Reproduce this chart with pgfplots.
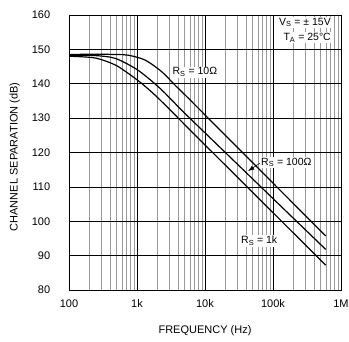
\documentclass[border=0pt]{standalone}
\usepackage{fontspec}
\setmainfont{Liberation Sans}
\usepackage{pgfplots}
\pgfplotsset{compat=1.18}
\usetikzlibrary{arrows.meta}
\begin{document}
\fontsize{11}{13}\selectfont
\begin{tikzpicture}
\begin{axis}[
  scale only axis, width=272pt, height=275pt,
  xmode=log, xmin=100, xmax=1000000, ymin=80, ymax=160,
  ytick={80,90,100,110,120,130,140,150,160},
  xtick={100,1000,10000,100000,1000000},
  xticklabels={100,1k,10k,100k,1M},
  minor xtick={200,300,400,500,600,700,800,900,2000,3000,4000,5000,6000,7000,8000,9000,20000,30000,40000,50000,60000,70000,80000,90000,200000,300000,400000,500000,600000,700000,800000,900000},
  grid=both,
  major grid style={black, line width=0.5pt},
  minor grid style={black!40, line width=0.4pt},
  major tick length=0pt, minor tick length=0pt,
  axis line style={black, line width=0.8pt},
  /pgf/number format/assume math mode=true,
  tick label style={font=\fontsize{11}{13}\selectfont},
  yticklabel style={xshift=-15pt},
  xticklabel style={yshift=-6pt},
  xlabel={FREQUENCY (Hz)},
  ylabel={CHANNEL SEPARATION (dB)},
  label style={font=\fontsize{11}{13}\selectfont},
  xlabel style={at={(axis description cs:0.5,-0.149)}, anchor=center},
  ylabel style={at={(axis description cs:-0.199,0.484)}, anchor=center, rotate=0},
]
% R_S = 10 ohm
\addplot[black, line width=1.2pt, smooth] coordinates {
 (100,148.5) (241,148.6) (500,148.5) (745,148.3) (1310,146.9) (2310,143.5)
 (3620,139.6) (5690,135.8) (8940,131.9) (100000,111.1) (596000,95.7)};
% R_S = 100 ohm
\addplot[black, line width=1.2pt, smooth] coordinates {
 (100,148.3) (241,148.2) (475,147.4) (935,144.5) (1470,141.6) (2310,138.2)
 (3620,134.3) (5690,130.4) (100000,106.6) (596000,91.8)};
% R_S = 1k
\addplot[black, line width=1.2pt, smooth] coordinates {
 (100,148.0) (241,147.5) (475,145.5) (745,143.0) (1170,140.1) (1840,136.7)
 (2890,132.9) (4540,129.0) (7130,125.1) (100000,102.5) (596000,87.2)};

\begin{scope}[font=\fontsize{10.5}{12}\selectfont]
\node[fill=white, inner sep=1pt] at (axis cs:7100,143.4) {R\textsubscript{S} = 10Ω};
\node[fill=white, inner sep=1pt, anchor=west] at (axis cs:64400,117.1) {R\textsubscript{S} = 100Ω};
\draw[-{Latex[length=6pt,width=4.5pt]}, line width=0.6pt] (axis cs:64000,116.9) -- (axis cs:43000,114.6);
\node[fill=white, inner sep=1pt, anchor=west] at (axis cs:32700,94.3) {R\textsubscript{S} = 1k};
\node[fill=white, inner sep=1pt, anchor=east] at (axis cs:738000,157.8) {V\textsubscript{S} = ± 15V};
\node[fill=white, inner sep=1pt, anchor=east] at (axis cs:738000,153.4) {T\textsubscript{A} = 25°C};
\end{scope}
\end{axis}
\pgfresetboundingbox
\path ([shift={(-69pt,-52pt)}]current axis.south west) rectangle ([shift={(8pt,15pt)}]current axis.north east);
\end{tikzpicture}
\end{document}
